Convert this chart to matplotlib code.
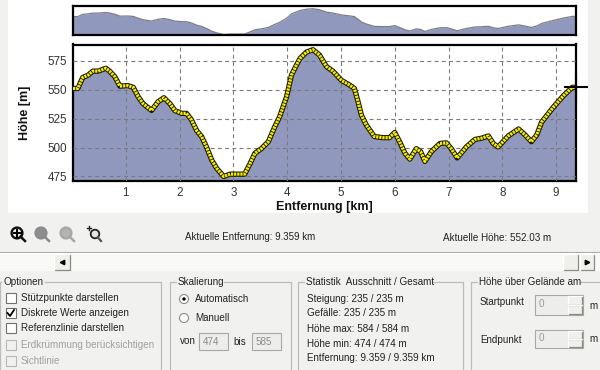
import matplotlib
matplotlib.use("Agg")
import matplotlib.pyplot as plt
from matplotlib.patches import Rectangle, Circle
from matplotlib.ticker import FixedLocator

distance_km = [0.02,0.11,0.2,0.3,0.39,0.49,0.63,0.70,0.8,0.89,1.04,1.14,1.23,1.32,1.48,1.6,1.71,1.82,1.91,2.04,
               2.13,2.22,2.32,2.41,2.5,2.6,2.69,2.82,2.94,3.06,3.21,3.31,3.4,3.52,3.65,3.77,3.86,3.99,4.08,4.17,
               4.24,4.36,4.48,4.6,4.73,4.85,5.01,5.16,5.25,5.31,5.38,5.47,5.62,5.78,5.9,6.0,6.09,6.19,6.28,6.4,
               6.48,6.56,6.68,6.84,6.96,7.05,7.16,7.33,7.49,7.61,7.74,7.83,7.92,8.11,8.3,8.42,8.54,8.64,8.73,8.95,
               9.14,9.3,9.359]
elevation_m = [551,551,560.5,562.5,566,566,568.5,566,561,553,553.5,552,544,538,532,539.5,543,538,532,529.5,
               529.5,524,514.5,509.5,500.5,489,482,475,477,477,477,486,495,499,505,518,526.5,544,562.5,571,
               577,582.5,584.5,580,570,566,558,554,551,541,528,519.5,509.5,508.5,508.5,513,505,495,490,499,
               496.5,488,496.5,503.5,504,499,491,500.5,507,508,510,503.5,500.5,510,516,511,505,511,522,535,
               545,552,552]
x_ticks = [1,2,3,4,5,6,7,8,9]
y_ticks = [475,500,525,550,575]
current_km = 9.359
current_m = 552.03
options = ["Stützpunkte darstellen","Diskrete Werte anzeigen","Referenzlinie darstellen",
           "Erdkrümmung berücksichtigen","Sichtlinie"]
stats = ["Steigung: 235 / 235 m","Gefälle: 235 / 235 m","Höhe max: 584 / 584 m",
         "Höhe min: 474 / 474 m","Entfernung: 9.359 / 9.359 km"]

FILL = "#9098BE"
BG = "#F1F1EF"
UI = "Liberation Sans"
W, H = 600, 370
fig = plt.figure(figsize=(6, 3.7), dpi=100, facecolor=BG)

def axpx(l, t, r, b, **kw):
    return fig.add_axes([l/W, 1-b/H, (r-l)/W, (b-t)/H], **kw)

# overlay in pixel coordinates for the window furniture
ui = axpx(0, 0, W, H, zorder=0)
ui.set_xlim(0, W); ui.set_ylim(H, 0); ui.axis("off")
ui.add_patch(Rectangle((8, 0), 580, 213, fc="white", ec="none"))
ui.plot([0, 600], [252, 252], color="#A8A8A4", lw=0.8)
ui.plot([0, 600], [253, 253], color="white", lw=0.8)
ui.add_patch(Rectangle((0, 254), 600, 17, fc="#F9F9F7", ec="none"))

def txt(x, y, s, color="#222222", size=7.1, **kw):
    ui.text(x, y, s, color=color, fontsize=size, family=UI, va="center", ha=kw.pop("ha", "left"), **kw)

def button(l, t, r, b):
    ui.add_patch(Rectangle((l, t), r-l, b-t, fc="#EFEFEB", ec="none"))
    ui.plot([l, r, r], [b, b, t], color="#8A8A86", lw=0.9)
    ui.plot([l, l, r], [b, t, t], color="white", lw=0.9)

button(54, 254, 70, 270)
ui.plot([61.5], [262], marker="<", ms=3.2, color="black")
button(563, 254, 578, 270)
button(580, 254, 594, 270)
ui.plot([586.5], [262], marker=">", ms=3.2, color="black")

def group(l, r, label, label_w, pad=8):
    top, bot = 282, 372
    ui.plot([l+pad+label_w, r, r], [top, top, bot], color="#BDBDB8", lw=0.9)
    ui.plot([l+pad-2, l, l], [top, top, bot], color="#BDBDB8", lw=0.9)
    txt(l+pad, top, label)

group(0, 161, "Optionen", 42, pad=3)
group(170, 291, "Skalierung", 46)
group(298, 463, "Statistik  Ausschnitt / Gesamt", 126)
group(471, 612, "Höhe über Gelände am", 101)

for i, (s, y) in enumerate(zip(options, [298, 313, 328, 345, 361])):
    off = i >= 3
    ui.add_patch(Rectangle((5.5, y-5), 10, 10, fc="#F1F1EF" if off else "white",
                           ec="#B8B8B4" if off else "#707070", lw=0.8))
    txt(21, y, s, color="#A0A0A0" if off else "#222222")
    if i == 1:
        ui.plot([7.5, 10, 14], [y, y+3, y-3], color="black", lw=1.3)

for y, s, sel in [(299, "Automatisch", True), (318, "Manuell", False)]:
    ui.add_patch(Circle((184, y), 4.5, fc="white", ec="#8A8A86", lw=0.8))
    if sel:
        ui.add_patch(Circle((184, y), 1.7, fc="black", ec="none"))
    txt(195, y, s)

txt(180, 341, "von"); txt(233, 342, "bis")
for l, r, s in [(199, 228, "474"), (252, 281, "585")]:
    ui.add_patch(Rectangle((l, 333), r-l, 17, fc="#EDEDEB", ec="#A8A8A4", lw=0.8))
    txt(l+4, 342, s, color="#8C8C8C")

for y, s in zip([299, 313, 329, 344, 358], stats):
    txt(307, y, s)

for lab, t, b, ly, my in [("Startpunkt", 295, 315, 302, 306), ("Endpunkt", 330, 348, 340, 339)]:
    txt(480, ly, lab)
    ui.add_patch(Rectangle((535, t), 48, b-t, fc="#EDEDEB", ec="#A8A8A4", lw=0.8))
    txt(539, (t+b)/2-1, "0", color="#9A9A9A")
    button(568, t+1, 582, (t+b)/2)
    button(568, (t+b)/2, 582, b-1)
    txt(589, my, "m")

txt(185, 236.5, "Aktuelle Entfernung: 9.359 km", size=7.0)
txt(443, 238, "Aktuelle Höhe: 552.03 m", size=7.1)

# toolbar icons (magnifiers)
for cx, col, fc in [(17, "#111111", "#F4F4F4"), (41, "#8A8A8A", "#8E8E8E"), (66, "#A8A8A8", "#B4B4B4")]:
    ui.add_patch(Circle((cx, 233), 5.4, fc=fc, ec=col, lw=1.7))
    ui.plot([cx+3.5, cx+8], [236.5, 241], color=col, lw=1.8)
ui.plot([13.5, 20.5], [233, 233], color="black", lw=1.5)
ui.plot([17, 17], [229.5, 236.5], color="black", lw=1.5)
ui.add_patch(Circle((95, 234), 4.3, fc="#E4E4E4", ec="#222222", lw=1.3))
ui.plot([98, 101], [237.5, 241], color="#555555", lw=1.6)
ui.plot([86.5, 90.5], [228, 228], color="#222222", lw=1.0)
ui.plot([88.5, 88.5], [226, 230], color="#222222", lw=1.0)

# overview panel
ov = axpx(73, 6, 575.5, 35, zorder=2)
ov.fill_between(distance_km, elevation_m, 460, color=FILL, lw=0)
ov.plot(distance_km, elevation_m, color="#7C7C84", lw=0.9)
ov.set_xlim(0.02, current_km)
ov.set_ylim(473, 596)
ov.set_xticks([]); ov.set_yticks([])
for s in ov.spines.values():
    s.set_linewidth(1.6)

# main profile
ax = axpx(73, 44.5, 575.5, 180.5, zorder=2)
ax.fill_between(distance_km, elevation_m, 460, color=FILL, lw=0, zorder=1)
ax.set_xlim(0.02, current_km)
ax.set_ylim(471.5, 589)
ax.xaxis.set_major_locator(FixedLocator(x_ticks))
ax.yaxis.set_major_locator(FixedLocator(y_ticks))
ax.grid(True, color="#7A7A7A", lw=0.8, ls=(0, (3.5, 3)), zorder=2)
ax.set_axisbelow(False)
ax.plot(distance_km, elevation_m, color="#1A1A00", lw=3.8, zorder=3, solid_capstyle="round")
ax.plot(distance_km, elevation_m, color="#F7EE00", lw=2.3, ls=(0, (0.7, 0.28)), zorder=4)
ax.plot([current_km], [current_m], marker="+", ms=17, mew=1.5, color="black", clip_on=False, zorder=6)
ax.tick_params(length=0, labelsize=8.4, labelcolor="#333333", pad=4.5)
for lab in ax.get_xticklabels() + ax.get_yticklabels():
    lab.set_family(UI)
ax.set_xlabel("Entfernung [km]", fontsize=9, fontweight="bold", family=UI, labelpad=1.5, color="#111111", x=0.5)
ax.set_ylabel("Höhe [m]", fontsize=9, fontweight="bold", family=UI, labelpad=12, color="#111111")
for s in ax.spines.values():
    s.set_linewidth(1.6)

fig.savefig("out.png", dpi=100, facecolor=BG)
